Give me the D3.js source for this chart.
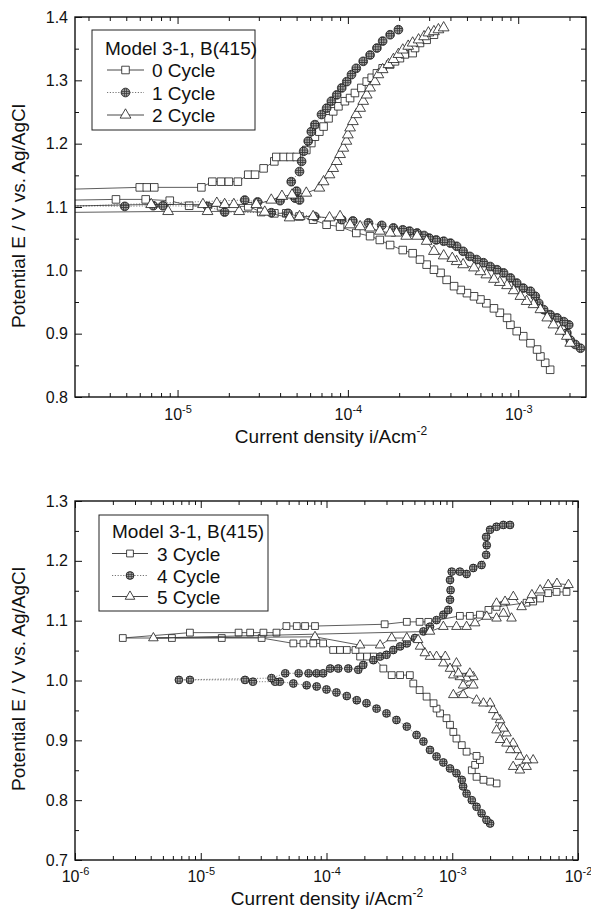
<!DOCTYPE html>
<html lang="en">
<head>
  <meta charset="UTF-8"/>
  <title>Polarization curves, Model 3-1, B(415)</title>
  <script src="https://d3js.org/d3.v7.min.js"></script>
  <style>
body {
  margin: 0;
  background: #fff;
}

svg {
  display: block;
  font-family: 'Liberation Sans', Arial, sans-serif;
}

text {
  fill: #111;
}

.axis text {
  font-size: 16px;
  font-family: 'Liberation Sans', Arial, sans-serif;
}

text.title {
  font-size: 19px;
}

text.ytitle {
  font-size: 19px;
}

.legend text {
  font-size: 19px;
}
  </style>
</head>
<body>
  <svg id="chart" width="591" height="912"></svg>
  <script>

// [current density A/cm2, potential V vs Ag/AgCl], cathodic branch then anodic branch
const topCycle0 = [
  [1.54e-3,0.843],[1.44e-3,0.854],[1.35e-3,0.864],[1.29e-3,0.875],[1.18e-3,0.885],[1.07e-3,0.896],
  [9.8e-4,0.904],[9.0e-4,0.914],[8.6e-4,0.925],[7.8e-4,0.933],[7.2e-4,0.940],[6.5e-4,0.948],
  [6.0e-4,0.954],[5.5e-4,0.959],[5.0e-4,0.964],[4.6e-4,0.969],[4.2e-4,0.975],[3.8e-4,0.985],
  [3.5e-4,0.996],[3.2e-4,1.001],[2.9e-4,1.009],[2.65e-4,1.017],[2.4e-4,1.027],[2.1e-4,1.032],
  [1.77e-4,1.040],[1.54e-4,1.048],[1.35e-4,1.054],[1.12e-4,1.059],[9.0e-5,1.069],[7.5e-5,1.072],
  [6.25e-5,1.080],[5.2e-5,1.085],[4.35e-5,1.090],[3.7e-5,1.090],[3.1e-5,1.092],[2.6e-5,1.101],
  [1.8e-5,1.101],[1.17e-5,1.102],[9.0e-6,1.110],[6.5e-6,1.112],[4.35e-6,1.112],[1.5e-6,1.110],
  [1.2e-6,1.126],[6.0e-6,1.131],[6.6e-6,1.131],[7.3e-6,1.131],[1.38e-5,1.131],[1.6e-5,1.140],
  [1.8e-5,1.140],[2.0e-5,1.140],[2.26e-5,1.140],[2.6e-5,1.151],[2.85e-5,1.151],[3.2e-5,1.161],
  [3.7e-5,1.172],[3.8e-5,1.179],[4.2e-5,1.179],[4.6e-5,1.179],[5.0e-5,1.179],[5.7e-5,1.190],
  [6.1e-5,1.201],[6.4e-5,1.211],[6.8e-5,1.219],[7.2e-5,1.227],[7.7e-5,1.240],[8.2e-5,1.251],
  [8.8e-5,1.259],[9.6e-5,1.267],[1.03e-4,1.272],[1.1e-4,1.280],[1.2e-4,1.288],[1.29e-4,1.298],
  [1.38e-4,1.304],[1.48e-4,1.311],[1.6e-4,1.319],[1.77e-4,1.325],[1.89e-4,1.330],[2.02e-4,1.335],
  [2.16e-4,1.341],[2.4e-4,1.343],[2.48e-4,1.351],[2.65e-4,1.359],[2.9e-4,1.364],[3.2e-4,1.372]
];

const topCycle1 = [
  [2.32e-3,0.877],[2.16e-3,0.883],[2.02e-3,0.890],[1.93e-3,0.901],[1.98e-3,0.914],[1.85e-3,0.919],
  [1.69e-3,0.925],[1.54e-3,0.930],[1.41e-3,0.938],[1.32e-3,0.948],[1.26e-3,0.959],[1.18e-3,0.967],
  [1.07e-3,0.972],[9.8e-4,0.980],[9.0e-4,0.988],[8.2e-4,0.996],[7.5e-4,1.001],[6.85e-4,1.006],
  [6.25e-4,1.012],[5.7e-4,1.017],[5.2e-4,1.022],[4.75e-4,1.030],[4.35e-4,1.038],[4.0e-4,1.043],
  [3.65e-4,1.046],[3.3e-4,1.048],[3.0e-4,1.051],[2.8e-4,1.055],[2.55e-4,1.059],[2.3e-4,1.062],
  [2.1e-4,1.064],[1.85e-4,1.067],[1.58e-4,1.071],[1.32e-4,1.075],[1.07e-4,1.078],[9.2e-5,1.080],
  [6.4e-5,1.085],[4.45e-5,1.090],[3.55e-5,1.091],[1.89e-5,1.092],[1.5e-5,1.101],[8.2e-6,1.102],
  [7.2e-6,1.102],[4.9e-6,1.101],[1.5e-6,1.103],
  [1.2e-6,1.098],[2.48e-5,1.111],[2.95e-5,1.108],[4.0e-5,1.110],[4.9e-5,1.114],[5.2e-5,1.111],
  [5.0e-5,1.125],[4.65e-5,1.140],[5.2e-5,1.156],[5.35e-5,1.172],[5.5e-5,1.188],[5.85e-5,1.204],
  [6.1e-5,1.219],[6.4e-5,1.230],[7.0e-5,1.246],[7.5e-5,1.256],[8.0e-5,1.267],[8.6e-5,1.277],
  [9.2e-5,1.288],[9.85e-5,1.298],[1.05e-4,1.309],[1.12e-4,1.319],[1.23e-4,1.330],[1.35e-4,1.340],
  [1.48e-4,1.351],[1.6e-4,1.362],[1.77e-4,1.372],[1.98e-4,1.380]
];

const topCycle2 = [
  [2.02e-3,0.885],[1.93e-3,0.896],[1.77e-3,0.904],[1.61e-3,0.914],[1.48e-3,0.925],[1.35e-3,0.938],
  [1.23e-3,0.946],[1.12e-3,0.951],[1.03e-3,0.959],[9.4e-4,0.968],[8.6e-4,0.976],[7.8e-4,0.981],
  [7.2e-4,0.986],[6.5e-4,0.993],[6.0e-4,0.998],[5.5e-4,1.004],[4.75e-4,1.009],[4.35e-4,1.014],
  [4.1e-4,1.019],[3.65e-4,1.023],[3.2e-4,1.030],[2.9e-4,1.046],[2.55e-4,1.054],[2.2e-4,1.054],
  [1.93e-4,1.059],[1.77e-4,1.059],[1.54e-4,1.062],[1.35e-4,1.067],[1.18e-4,1.069],[1.03e-4,1.072],
  [9.0e-5,1.085],[7.8e-5,1.083],[6.25e-5,1.085],[5.2e-5,1.085],[4.55e-5,1.083],[3.25e-5,1.092],
  [2.3e-5,1.093],[1.5e-5,1.093],[8.8e-6,1.093],[1.5e-6,1.091],
  [1.2e-6,1.100],[7.0e-6,1.104],[1.41e-5,1.104],[1.7e-5,1.106],[1.89e-5,1.104],[2.14e-5,1.104],
  [2.9e-5,1.104],[3.55e-5,1.111],[4.1e-5,1.117],[4.7e-5,1.119],[5.7e-5,1.122],[6.8e-5,1.130],
  [7.2e-5,1.140],[7.8e-5,1.151],[8.2e-5,1.161],[8.6e-5,1.172],[9.0e-5,1.183],[9.4e-5,1.193],
  [9.8e-5,1.204],[1.0e-4,1.214],[1.03e-4,1.225],[1.07e-4,1.235],[1.12e-4,1.246],[1.18e-4,1.256],
  [1.23e-4,1.267],[1.29e-4,1.277],[1.35e-4,1.288],[1.44e-4,1.298],[1.51e-4,1.309],[1.6e-4,1.317],
  [1.73e-4,1.325],[1.85e-4,1.333],[1.98e-4,1.341],[2.1e-4,1.348],[2.26e-4,1.354],[2.4e-4,1.359],
  [2.6e-4,1.364],[2.8e-4,1.369],[2.97e-4,1.375],[3.2e-4,1.377],[3.4e-4,1.380],[3.65e-4,1.383]
];

const bottomCycle3 = [
  [2.25e-3,0.828],[2.0e-3,0.831],[1.77e-3,0.834],[1.56e-3,0.839],[1.43e-3,0.850],[1.52e-3,0.859],
  [1.66e-3,0.867],[1.56e-3,0.874],[1.3e-3,0.881],[1.19e-3,0.892],[1.08e-3,0.903],[1.02e-3,0.914],
  [9.6e-4,0.926],[9.0e-4,0.937],[8.0e-4,0.945],[7.5e-4,0.953],[7.1e-4,0.962],[6.25e-4,0.973],
  [5.5e-4,0.984],[4.9e-4,0.995],[4.6e-4,1.009],[3.85e-4,1.009],[3.3e-4,1.009],[2.83e-4,1.020],
  [2.36e-4,1.040],[2.1e-4,1.040],[1.85e-4,1.040],[1.7e-4,1.051],[1.45e-4,1.051],[1.28e-4,1.051],
  [1.13e-4,1.051],[9.4e-5,1.062],[7.85e-5,1.062],[6.55e-5,1.062],[5.45e-5,1.062],[3.05e-5,1.071],
  [1.47e-5,1.071],[5.9e-6,1.071],[2.4e-6,1.071],
  [8.2e-6,1.080],[2.0e-5,1.080],[2.47e-5,1.080],[3.15e-5,1.080],[4.0e-5,1.080],[4.8e-5,1.091],
  [5.8e-5,1.091],[6.75e-5,1.091],[8.1e-5,1.091],[2.9e-4,1.094],[4.35e-4,1.098],[5.5e-4,1.098],
  [6.45e-4,1.098],[1.15e-3,1.108],[1.38e-3,1.108],[1.66e-3,1.110],[1.94e-3,1.118],[2.25e-3,1.123],
  [3.9e-3,1.130],[4.4e-3,1.132],[5.0e-3,1.137],[5.8e-3,1.146],[6.75e-3,1.148],[8.1e-3,1.148]
];

const bottomCycle4 = [
  [2.0e-3,0.761],[1.87e-3,0.767],[1.71e-3,0.778],[1.56e-3,0.789],[1.43e-3,0.800],[1.3e-3,0.811],
  [1.22e-3,0.823],[1.19e-3,0.834],[1.08e-3,0.845],[9.6e-4,0.853],[8.5e-4,0.863],[7.5e-4,0.873],
  [6.65e-4,0.884],[5.9e-4,0.898],[5.2e-4,0.909],[4.35e-4,0.923],[3.6e-4,0.934],[3.0e-4,0.945],
  [2.5e-4,0.953],[2.08e-4,0.962],[1.74e-4,0.967],[1.45e-4,0.974],[1.2e-4,0.980],[1.0e-4,0.985],
  [8.35e-5,0.990],[6.95e-5,0.992],[5.45e-5,0.995],[4.25e-5,0.998],[3.9e-5,0.998],[2.6e-5,0.998],
  [2.25e-5,1.001],[8.2e-6,1.001],[6.7e-6,1.001],
  [3.65e-5,1.004],[4.7e-5,1.012],[6.0e-5,1.012],[7.2e-5,1.012],[8.35e-5,1.012],[9.4e-5,1.012],
  [1.07e-4,1.020],[1.24e-4,1.020],[1.49e-4,1.020],[1.79e-4,1.018],[1.96e-4,1.026],[2.36e-4,1.034],
  [2.67e-4,1.040],[3.0e-4,1.043],[3.4e-4,1.051],[3.85e-4,1.057],[4.35e-4,1.062],[5.05e-4,1.071],
  [5.9e-4,1.082],[6.65e-4,1.090],[7.5e-4,1.101],[8.5e-4,1.110],[9.3e-4,1.118],[9.6e-4,1.135],
  [9.7e-4,1.151],[9.6e-4,1.168],[9.9e-4,1.182],[1.15e-3,1.182],[1.3e-3,1.178],[1.47e-3,1.188],
  [1.71e-3,1.193],[1.86e-3,1.210],[1.88e-3,1.226],[1.86e-3,1.240],[2.0e-3,1.252],[2.25e-3,1.257],
  [2.55e-3,1.260],[2.88e-3,1.260]
];

const bottomCycle5 = [
  [3.9e-3,0.856],[3.45e-3,0.850],[3.05e-3,0.856],[4.4e-3,0.867],[3.9e-3,0.867],[3.45e-3,0.873],
  [3.25e-3,0.884],[2.9e-3,0.884],[3.05e-3,0.895],[2.7e-3,0.895],[2.4e-3,0.901],[2.7e-3,0.912],
  [2.55e-3,0.920],[2.25e-3,0.917],[2.4e-3,0.934],[2.25e-3,0.940],[2.12e-3,0.951],[2.0e-3,0.962],
  [1.77e-3,0.962],[1.56e-3,0.967],[1.22e-3,0.976],[1.02e-3,0.976],[1.47e-3,0.992],[1.22e-3,0.992],
  [1.47e-3,1.006],[1.3e-3,1.004],[1.15e-3,1.006],[1.02e-3,1.009],[1.38e-3,1.012],[1.12e-3,1.012],
  [1.08e-3,1.029],[9.6e-4,1.020],[8.5e-4,1.029],[8.8e-4,1.040],[7.5e-4,1.040],[6.65e-4,1.040],
  [6.05e-4,1.046],[5.55e-4,1.057],[5.35e-4,1.068],[4.35e-4,1.071],[3.3e-4,1.071],[2.67e-4,1.059],
  [1.85e-4,1.059],[8.1e-5,1.073],[4.2e-6,1.071],
  [6.65e-4,1.082],[8.5e-4,1.090],[1.08e-3,1.090],[1.3e-3,1.090],[1.52e-3,1.096],[1.88e-3,1.107],
  [2.25e-3,1.104],[2.55e-3,1.112],[2.96e-3,1.104],[2.63e-3,1.132],[2.25e-3,1.129],[3.06e-3,1.140],
  [3.56e-3,1.123],[4.15e-3,1.135],[4.3e-3,1.143],[5.0e-3,1.151],[5.8e-3,1.160],[6.8e-3,1.162],
  [8.4e-3,1.160]
];

const legendTitle = 'Model 3-1, B(415)';
const topNames = ['0 Cycle', '1 Cycle', '2 Cycle'];
const bottomNames = ['3 Cycle', '4 Cycle', '5 Cycle'];

const topPotentialTicks = [0.8, 0.9, 1.0, 1.1, 1.2, 1.3, 1.4];
const topPotentialMinor = [0.85, 0.95, 1.05, 1.15, 1.25, 1.35];
const bottomPotentialTicks = [0.7, 0.8, 0.9, 1.0, 1.1, 1.2, 1.3];
const bottomPotentialMinor = [0.75, 0.85, 0.95, 1.05, 1.15, 1.25];
const topDecades = [1e-5, 1e-4, 1e-3];
const bottomDecades = [1e-6, 1e-5, 1e-4, 1e-3, 1e-2];

const xTitle = 'Current density i/Acm';
const yTitle = 'Potential E / V vs. Ag/AgCl';

const svg = d3.select('#chart');

// crosshatched grey fill of the round markers
const defs = svg.append('defs');
const hatch = defs.append('pattern')
  .attr('id', 'hatch')
  .attr('width', 2.4)
  .attr('height', 2.4)
  .attr('patternUnits', 'userSpaceOnUse');
hatch.append('rect').attr('width', 2.4).attr('height', 2.4).attr('fill', '#a4a4a4');
hatch.append('path')
  .attr('d', 'M0,1.2H2.4M1.2,0V2.4')
  .attr('stroke', '#3a3a3a')
  .attr('stroke-width', 0.8);

const styles = [
  { symbol: d3.symbolSquare, size: 46, fill: '#fff', dash: null, lineColor: '#333' },
  { symbol: d3.symbolCircle, size: 48, fill: 'url(#hatch)', dash: '1.2,1.6', lineColor: '#666' },
  { symbol: d3.symbolTriangle, size: 40, fill: '#fff', dash: null, lineColor: '#333' }
];

function drawPanel(p) {
  const x = d3.scaleLog().domain(p.xDomain).range(p.xRange);
  const y = d3.scaleLinear().domain(p.yDomain).range(p.yRange);
  const left = p.xRange[0], right = p.xRange[1];
  const top = p.yRange[1], bottom = p.yRange[0];

  const g = svg.append('g');

  defs.append('clipPath').attr('id', p.id)
    .append('rect')
    .attr('x', left).attr('y', top)
    .attr('width', right - left).attr('height', bottom - top);

  const line = d3.line().x(d => x(d[0])).y(d => y(d[1]));

  p.series.forEach((data, k) => {
    const st = styles[k];
    const sg = g.append('g').attr('clip-path', `url(#${p.id})`);
    sg.append('path')
      .datum(data)
      .attr('d', line)
      .attr('fill', 'none')
      .attr('stroke', st.lineColor)
      .attr('stroke-width', 0.8)
      .attr('stroke-dasharray', st.dash);
    sg.selectAll('path.mark')
      .data(data)
      .join('path')
      .attr('class', 'mark')
      .attr('transform', d => `translate(${x(d[0])},${y(d[1])})`)
      .attr('d', d3.symbol(st.symbol, st.size * p.markScale))
      .attr('fill', st.fill)
      .attr('stroke', '#1a1a1a')
      .attr('stroke-width', 0.8);
  });

  // axes, ticks pointing inward
  const minorX = x.ticks().filter(t => !p.decades.some(d => Math.abs(d - t) / d < 1e-6));

  g.append('g').attr('class', 'axis').attr('color', '#111')
    .attr('transform', `translate(0,${bottom})`)
    .call(d3.axisBottom(x).tickValues(minorX).tickSize(-4).tickFormat(''))
    .call(a => a.select('.domain').remove());

  const xb = g.append('g').attr('class', 'axis').attr('color', '#111')
    .attr('transform', `translate(0,${bottom})`)
    .call(d3.axisBottom(x).tickValues(p.decades).tickSize(-7).tickPadding(p.xLabelPad))
    .call(a => a.select('.domain').remove());
  xb.selectAll('.tick text').each(function (d) {
    const t = d3.select(this).text(null);
    t.append('tspan').text('10');
    t.append('tspan').attr('dy', -7).style('font-size', '11px')
      .text(Math.round(Math.log10(d)));
  });

  g.append('g').attr('class', 'axis').attr('color', '#111')
    .attr('transform', `translate(0,${top})`)
    .call(d3.axisTop(x).tickValues(minorX).tickSize(-4).tickFormat(''))
    .call(a => a.select('.domain').remove());
  g.append('g').attr('class', 'axis').attr('color', '#111')
    .attr('transform', `translate(0,${top})`)
    .call(d3.axisTop(x).tickValues(p.decades).tickSize(-7).tickFormat(''))
    .call(a => a.select('.domain').remove());

  g.append('g').attr('class', 'axis').attr('color', '#111')
    .attr('transform', `translate(${left},0)`)
    .call(d3.axisLeft(y).tickValues(p.yTicks).tickSize(-7).tickPadding(7).tickFormat(d3.format('.1f')))
    .call(a => a.select('.domain').remove());
  g.append('g').attr('class', 'axis').attr('color', '#111')
    .attr('transform', `translate(${left},0)`)
    .call(d3.axisLeft(y).tickValues(p.yMinor).tickSize(-4).tickFormat(''))
    .call(a => a.select('.domain').remove());
  g.append('g').attr('class', 'axis').attr('color', '#111')
    .attr('transform', `translate(${right},0)`)
    .call(d3.axisRight(y).tickValues(p.yTicks.concat(p.yMinor)).tickSize(-5).tickFormat(''))
    .call(a => a.select('.domain').remove());

  g.append('rect')
    .attr('x', left).attr('y', top)
    .attr('width', right - left).attr('height', bottom - top)
    .attr('fill', 'none')
    .attr('stroke', '#111')
    .attr('stroke-width', 1.4);

  // axis titles
  const xt = g.append('text')
    .attr('class', 'title')
    .attr('x', p.xTitlePos[0])
    .attr('y', p.xTitlePos[1])
    .attr('text-anchor', 'middle');
  xt.append('tspan').text(xTitle);
  xt.append('tspan').attr('dy', -8).style('font-size', '12px').text('-2');

  g.append('text')
    .attr('class', 'ytitle')
    .attr('transform', `translate(${p.yTitlePos[0]},${p.yTitlePos[1]}) rotate(-90)`)
    .attr('text-anchor', 'middle')
    .text(yTitle);

  // legend
  const L = p.legend;
  const lg = g.append('g').attr('class', 'legend');
  lg.append('rect')
    .attr('x', L.box[0]).attr('y', L.box[1])
    .attr('width', L.box[2]).attr('height', L.box[3])
    .attr('fill', '#fff')
    .attr('stroke', '#222')
    .attr('stroke-width', 1);
  lg.append('text').attr('x', L.box[0] + 13).attr('y', L.titleY).text(legendTitle);
  p.names.forEach((name, k) => {
    const st = styles[k];
    const cy = L.rowY[k];
    lg.append('line')
      .attr('x1', L.lineX[0]).attr('x2', L.lineX[1])
      .attr('y1', cy).attr('y2', cy)
      .attr('stroke', st.lineColor)
      .attr('stroke-width', 0.9)
      .attr('stroke-dasharray', st.dash);
    lg.append('path')
      .attr('transform', `translate(${(L.lineX[0] + L.lineX[1]) / 2},${cy})`)
      .attr('d', d3.symbol(st.symbol, st.size * p.markScale)())
      .attr('fill', st.fill)
      .attr('stroke', '#1a1a1a')
      .attr('stroke-width', 0.8);
    lg.append('text').attr('x', L.textX).attr('y', cy + 7).text(name);
  });
}

drawPanel({
  id: 'clipTop',
  xDomain: [2.5e-6, 2.5e-3],
  xRange: [75, 586],
  yDomain: [0.8, 1.4],
  yRange: [397, 17],
  yTicks: topPotentialTicks,
  yMinor: topPotentialMinor,
  decades: topDecades,
  series: [topCycle0, topCycle1, topCycle2],
  names: topNames,
  markScale: 1.25,
  xLabelPad: 12,
  xTitlePos: [331, 442.5],
  yTitlePos: [25, 216],
  legend: { box: [92, 30, 163, 100], titleY: 55, rowY: [70, 92.5, 115], lineX: [107, 144], textX: 152 }
});

drawPanel({
  id: 'clipBottom',
  xDomain: [1e-6, 1e-2],
  xRange: [75, 578],
  yDomain: [0.7, 1.3],
  yRange: [860, 501],
  yTicks: bottomPotentialTicks,
  yMinor: bottomPotentialMinor,
  decades: bottomDecades,
  series: [bottomCycle3, bottomCycle4, bottomCycle5],
  names: bottomNames,
  markScale: 1.0,
  xLabelPad: 10.5,
  xTitlePos: [327, 904.5],
  yTitlePos: [25, 679],
  legend: { box: [99, 515, 169, 96], titleY: 538, rowY: [553.5, 575.5, 596.5], lineX: [112, 148], textX: 157 }
});

  </script>
</body>
</html>
